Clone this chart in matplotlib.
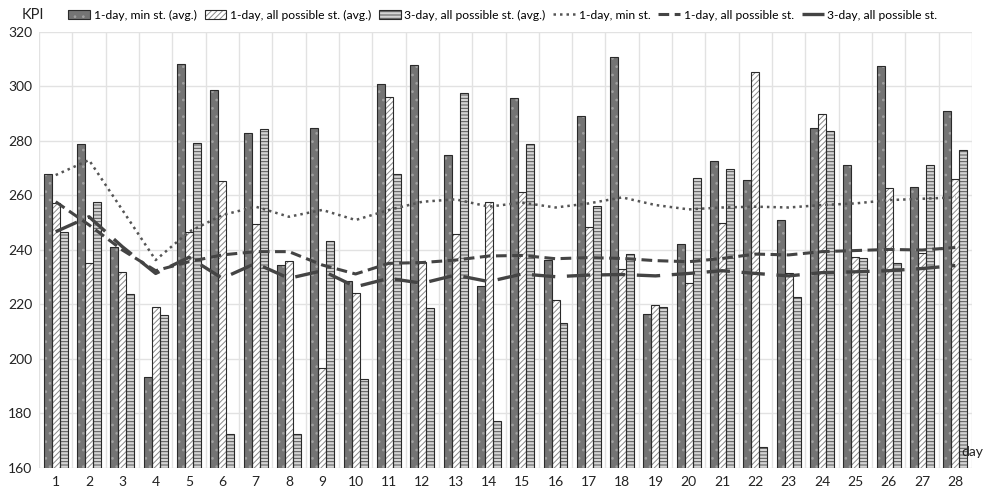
import matplotlib

matplotlib.use("Agg")

import matplotlib.pyplot as plt
import numpy as np
from matplotlib.legend_handler import HandlerTuple

plt.rcParams["font.family"] = ["Lato", "DejaVu Sans"]
plt.rcParams["hatch.linewidth"] = 0.7

days = list(range(1, 29))

# barras (promedios)
min_st_avg = [267.8, 278.8, 241.2, 193.4, 308.3, 298.7, 283.1, 234.4, 284.8, 228.6,
              300.9, 308.0, 274.7, 226.9, 295.9, 236.2, 289.2, 310.8, 216.6, 242.3,
              272.8, 265.7, 251.0, 284.7, 271.3, 307.6, 263.1, 291.1]
all_st_avg = [257.4, 235.1, 232.0, 219.1, 246.7, 265.4, 249.5, 236.0, 196.8, 224.1,
              296.3, 235.5, 245.9, 257.5, 261.2, 221.7, 248.3, 232.9, 219.8, 227.8,
              249.9, 305.2, 231.7, 290.0, 237.3, 262.8, 238.8, 266.0]
three_day_avg = [246.5, 257.7, 223.9, 216.0, 279.4, 172.4, 284.3, 172.4, 243.4, 192.7,
                 267.9, 218.8, 297.7, 177.2, 278.9, 213.2, 256.0, 238.4, 219.0, 266.6,
                 269.8, 167.8, 222.6, 283.7, 236.9, 235.1, 271.1, 276.7]

# líneas
min_st = [267.5, 273.0, 254.7, 236.3, 246.7, 252.8, 255.9, 252.2, 254.7, 251.0,
          254.7, 257.7, 258.6, 255.9, 257.4, 255.6, 257.1, 259.3, 256.5, 254.9,
          255.6, 255.9, 255.6, 256.5, 257.1, 258.3, 258.8, 259.3]
all_st = [257.7, 249.2, 240.0, 232.4, 235.7, 238.2, 239.4, 239.4, 234.5, 231.2,
          235.1, 235.4, 236.3, 237.8, 238.0, 236.8, 237.2, 236.9, 236.1, 235.7,
          236.9, 238.5, 238.2, 239.4, 239.8, 240.2, 240.0, 240.9]
three_day = [246.7, 252.2, 241.2, 231.4, 237.3, 229.6, 235.1, 229.6, 232.4, 226.5,
             229.6, 227.8, 230.8, 228.4, 231.2, 230.2, 230.8, 231.0, 230.5, 231.4,
             232.4, 231.4, 230.5, 231.7, 232.0, 232.4, 233.2, 234.3]

x = np.arange(len(days))
w = 0.24

fig = plt.figure(figsize=(9.86, 4.9), dpi=100)
ax = fig.add_axes([0.0396, 0.0449, 0.9462, 0.8898])

bar_specs = [
    (min_st_avg, -w, "#747474", "#a0a0a0", "..", "1-day, min st. (avg.)"),
    (all_st_avg, 0.0, "white", "#8a8a8a", "//////", "1-day, all possible st. (avg.)"),
    (three_day_avg, w, "#d4d4d4", "#555555", "-----", "3-day, all possible st. (avg.)"),
]
handles = []
labels = []
for vals, off, fc, hc, hatch, lab in bar_specs:
    b1 = ax.bar(x + off, vals, w, color=fc, edgecolor=hc, hatch=hatch,
                linewidth=0, zorder=2)
    b2 = ax.bar(x + off, vals, w, fill=False, edgecolor="#2a2a2a", linewidth=0.8, zorder=3)
    handles.append((b1[0], b2[0]))
    labels.append(lab)

l1, = ax.plot(x, min_st, color="#555555", lw=1.8, ls=(0, (1, 1.6)), zorder=4)
l2, = ax.plot(x, all_st, color="#444444", lw=2.2, ls=(0, (3.5, 1.8)), zorder=4)
l3, = ax.plot(x, three_day, color="#444444", lw=2.4, ls=(0, (7, 3.5)), zorder=4)
handles += [l1, l2, l3]
labels += ["1-day, min st.", "1-day, all possible st.", "3-day, all possible st."]

ax.set_ylim(160, 320)
ax.set_xlim(-0.5, len(days) - 0.5)
ax.set_yticks(range(160, 321, 20))
ax.set_xticks(x)
ax.set_xticklabels([str(d) for d in days])
ax.set_xticks(np.arange(-0.5, len(days), 1), minor=True)
ax.grid(False)
ax.grid(axis="y", which="major", color="#e2e2e2", lw=1, zorder=0)
ax.grid(axis="x", which="minor", color="#e2e2e2", lw=1, zorder=0)
ax.set_axisbelow(True)
for s in ax.spines.values():
    s.set_visible(False)
ax.tick_params(axis="both", which="both", length=0, labelsize=10, colors="#222222")
ax.tick_params(axis="x", pad=6)
ax.tick_params(axis="y", pad=5)

fig.text(0.022, 0.969, "KPI", fontsize=10.5, va="center", ha="left", color="#222222")
fig.text(0.975, 0.077, "day", fontsize=10, va="center", ha="left", color="#222222")

fig.legend(handles, labels, loc="center", bbox_to_anchor=(0.51, 0.969), ncol=6,
           frameon=False, fontsize=8.7, handlelength=1.8, handletextpad=0.3,
           columnspacing=0.65, borderpad=0.2,
           handler_map={tuple: HandlerTuple(ndivide=1, pad=0)})

plt.savefig("out.png", dpi=100)
